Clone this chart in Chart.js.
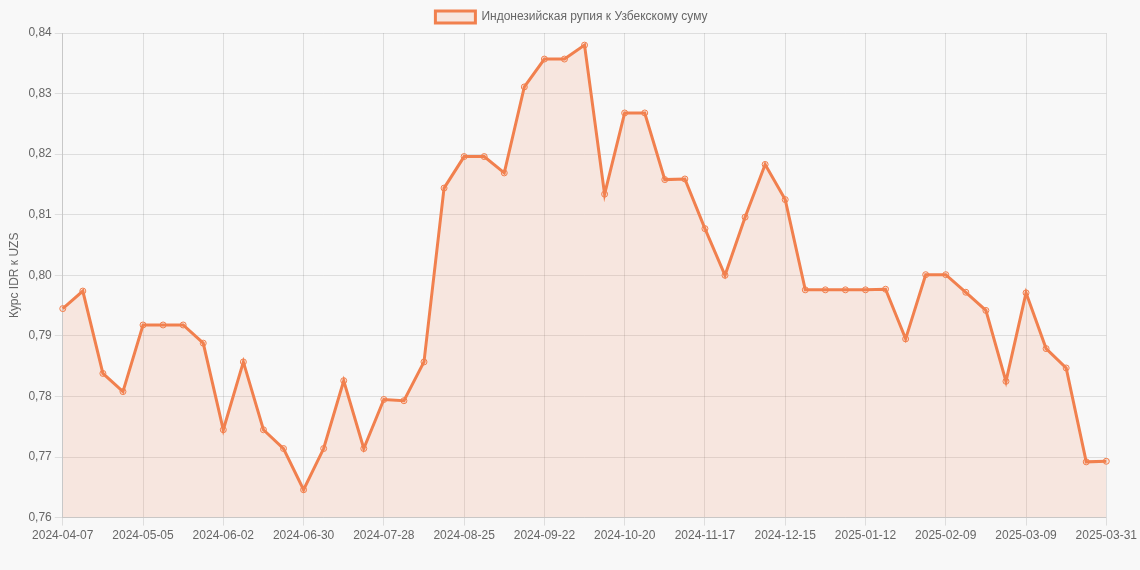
<!DOCTYPE html>
<html>
<head>
<meta charset="utf-8">
<script src="https://cdn.jsdelivr.net/npm/chart.js@4/dist/chart.umd.min.js"></script>
<style>
  html, body { margin: 0; padding: 0; background: #f8f8f8; }
  .wrap { width: 1140px; height: 570px; }
</style>
</head>
<body>
<div class="wrap"><canvas id="lineChart"></canvas></div>
<script>
const labels = [
  "2024-04-07","2024-04-14","2024-04-21","2024-04-28","2024-05-05","2024-05-12","2024-05-19","2024-05-26",
  "2024-06-02","2024-06-09","2024-06-16","2024-06-23","2024-06-30","2024-07-07","2024-07-14","2024-07-21",
  "2024-07-28","2024-08-04","2024-08-11","2024-08-18","2024-08-25","2024-09-01","2024-09-08","2024-09-15",
  "2024-09-22","2024-09-29","2024-10-06","2024-10-13","2024-10-20","2024-10-27","2024-11-03","2024-11-10",
  "2024-11-17","2024-11-24","2024-12-01","2024-12-08","2024-12-15","2024-12-22","2024-12-29","2025-01-05",
  "2025-01-12","2025-01-19","2025-01-26","2025-02-02","2025-02-09","2025-02-16","2025-02-23","2025-03-02",
  "2025-03-09","2025-03-16","2025-03-23","2025-03-30","2025-03-31"
];

const rates = [
  0.7945, 0.7974, 0.7838, 0.7808, 0.7918, 0.7918, 0.7918, 0.7888,
  0.7745, 0.7857, 0.7745, 0.7714, 0.7646, 0.7714, 0.7826, 0.7714,
  0.7795, 0.7793, 0.7857, 0.8144, 0.8196, 0.8196, 0.8169, 0.8311,
  0.8357, 0.8357, 0.8380, 0.8134, 0.8268, 0.8268, 0.8158, 0.8159,
  0.8077, 0.8000, 0.8096, 0.8183, 0.8125, 0.7976, 0.7976, 0.7976,
  0.7976, 0.7977, 0.7895, 0.8001, 0.8001, 0.7972, 0.7942, 0.7825,
  0.7971, 0.7879, 0.7847, 0.7692, 0.7693
];

const seriesName = "Индонезийская рупия к Узбекскому суму";
const axisTitle = "Курс IDR к UZS";

const lineColor = "rgb(241, 128, 78)";
const fillColor = "rgba(241, 128, 78, 0.15)";

const config = {
  type: 'line',
  data: {
    labels: labels,
    datasets: [{
      label: seriesName,
      data: rates,
      borderColor: lineColor,
      backgroundColor: fillColor,
      borderWidth: 3,
      fill: true,
      tension: 0,
      pointRadius: 3,
      pointBorderWidth: 1,
      pointBackgroundColor: fillColor,
      pointBorderColor: lineColor
    }]
  },
  options: {
    responsive: true,
    maintainAspectRatio: false,
    animation: false,
    layout: { padding: { left: 3, top: 1, bottom: 24 } },
    plugins: {
      legend: {
        display: true,
        labels: { color: '#666', font: { size: 12 } }
      },
      tooltip: { enabled: false }
    },
    scales: {
      x: {
        ticks: { color: '#666', maxRotation: 0, autoSkip: true },
        grid: { color: 'rgba(0,0,0,0.1)' }
      },
      y: {
        min: 0.76,
        max: 0.84,
        ticks: {
          stepSize: 0.01,
          color: '#666',
          callback: function (v) { return v.toFixed(2).replace('.', ','); }
        },
        title: { display: true, text: axisTitle, color: '#666', font: { size: 12 } },
        grid: { color: 'rgba(0,0,0,0.1)' }
      }
    }
  }
};

const chart = new Chart(document.getElementById('lineChart'), config);
</script>
</body>
</html>
